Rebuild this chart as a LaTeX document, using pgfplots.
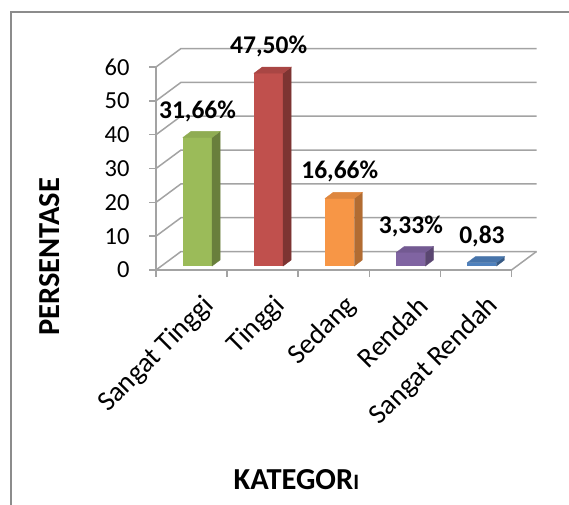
\documentclass[border=0pt]{standalone}
\usepackage{pgfplots}
\pgfplotsset{compat=1.18}
\usepackage{fontspec}
\setmainfont{Carlito}
\definecolor{gridc}{HTML}{A3A3A3}
\definecolor{framec}{HTML}{8C8C8C}
\definecolor{gfront}{HTML}{9BBB59}
\definecolor{rfront}{HTML}{C0504D}
\definecolor{ofront}{HTML}{F79646}
\definecolor{pfront}{HTML}{8064A2}
\definecolor{bfront}{HTML}{4F81BD}
\pgfdeclareplotmark{empty}{}
\pgfplotsset{
  cube faces/.style 2 args={
    scatter, only marks, mark=empty,
    visualization depends on={rawy\as\barh},
    scatter/@pre marker code/.code={\scope
      \fill[#1] (14.5pt,0pt) -- ++(8pt,6pt) -- ++(0pt,-\barh*3.383pt) -- ++(-8pt,-6pt) -- cycle;
      \fill[#2] (-14.5pt,0pt) -- ++(29pt,0pt) -- ++(8pt,6pt) -- ++(-29pt,0pt) -- cycle;},
    scatter/@post marker code/.code={\endscope},
  },
  front bar/.style 2 args={
    ybar, bar width=29pt, bar shift=0pt, fill=#1, draw=none,
    nodes near coords={\textbf{#2}},
    every node near coord/.append style={anchor=center, yshift=26.5pt, text=black,
      font=\fontsize{25.5}{29}\selectfont},
  },
}
\begin{document}
\begin{tikzpicture}
\useasboundingbox (0pt,0pt) rectangle (569pt,504pt);
\draw[color=framec, line width=1.5pt] (11pt,-5pt) -- (11pt,492pt) -- (575pt,492pt);
\begin{axis}[
  at={(156pt,234pt)}, anchor=south west,
  x=71.1pt, y=3.383pt,
  xmin=-0.5, xmax=4.5, ymin=0, ymax=60,
  clip=false,
  axis x line*=bottom, axis y line*=left,
  axis line style={gridc, line width=1.5pt},
  tick style={gridc, line width=1.5pt},
  major tick length=7pt, tick align=outside,
  ytick={0,10,...,60},
  /pgf/number format/assume math mode=true,
  yticklabel style={font=\fontsize{24.5}{28}\selectfont, text=black, xshift=-16pt},
  xtick={-0.5,0.5,1.5,2.5,3.5,4.5}, xticklabels={},
  extra x ticks={0,1,2,3,4},
  extra x tick labels={Sangat Tinggi,Tinggi,Sedang,Rendah,Sangat Rendah},
  extra x tick style={major tick length=0pt,
    xticklabel style={rotate=45, anchor=east, font=\fontsize{28}{32}\selectfont, text=black, yshift=-35pt, xshift=-6pt}},
  xlabel={\textbf{KATEGOR\fontsize{22}{26}\selectfont I}},
  xlabel style={at={(rel axis cs:0.395,0)}, anchor=center, yshift=-210pt, font=\fontsize{30.5}{34}\selectfont},
  ylabel={\textbf{PERSENTASE}},
  ylabel style={at={(rel axis cs:-0.3006,0.064)}, anchor=center, font=\fontsize{30.5}{34}\selectfont},
]
\pgfplotsinvokeforeach{0,10,...,60}{
  \draw[gridc, line width=1.5pt] (axis cs:-0.5,#1) -- ([shift={(25pt,18.5pt)}]axis cs:-0.5,#1) -- ([shift={(25pt,18.5pt)}]axis cs:4.5,#1);
}
\draw[gridc, line width=1.5pt] (axis cs:4.5,0) -- ([shift={(25pt,18.5pt)}]axis cs:4.5,0);

\addplot[front bar={gfront}{31,66\%}, xshift=6pt, yshift=4pt] coordinates {(0,38)};
\addplot[cube faces={gfront!68!black}{gfront!92!black}, xshift=6pt, yshift=4pt] coordinates {(0,38)};
\addplot[front bar={rfront}{47,50\%}, xshift=6pt, yshift=4pt] coordinates {(1,57)};
\addplot[cube faces={rfront!65!black}{rfront!88!black}, xshift=6pt, yshift=4pt] coordinates {(1,57)};
\addplot[front bar={ofront}{16,66\%}, xshift=6pt, yshift=4pt] coordinates {(2,20)};
\addplot[cube faces={ofront!72!black}{ofront!90!black}, xshift=6pt, yshift=4pt] coordinates {(2,20)};
\addplot[front bar={pfront}{3,33\%}, xshift=6pt, yshift=4pt] coordinates {(3,4)};
\addplot[cube faces={pfront!70!black}{pfront!90!black}, xshift=6pt, yshift=4pt] coordinates {(3,4)};
\addplot[front bar={bfront}{0,83}, xshift=6pt, yshift=4pt] coordinates {(4,1)};
\addplot[cube faces={bfront!70!black}{bfront!90!black}, xshift=6pt, yshift=4pt] coordinates {(4,1)};
\end{axis}
\end{tikzpicture}
\end{document}
